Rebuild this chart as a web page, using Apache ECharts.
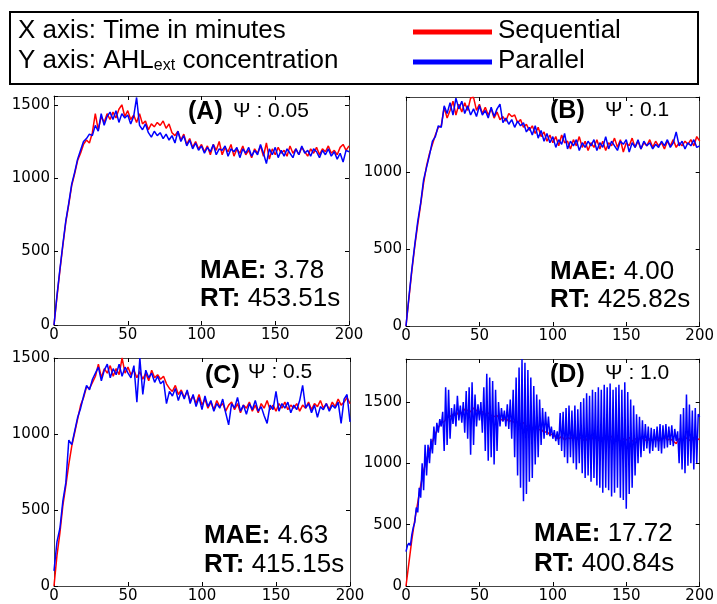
<!DOCTYPE html>
<html><head><meta charset="utf-8">
<script src="https://cdn.jsdelivr.net/npm/echarts@6/dist/echarts.min.js"></script>
<style>html,body{margin:0;padding:0;background:#fff}#c{width:717px;height:604px}</style>
</head><body><div id="c"></div>
<script>
// ---------- data ----------
const xTicks = [0, 50, 100, 150, 200];
const yTicks = [0, 500, 1000, 1500];
const panelLabels = ['(A)', '(B)', '(C)', '(D)'];
const psiValues = ['0.05', '0.1', '0.5', '1.0'];
const maeValues = ['3.78', '4.00', '4.63', '17.72'];
const rtValues = ['453.51s', '425.82s', '415.15s', '400.84s'];
const yMax = [1560, 1487, 1500, 1850];
const stepCoarse = 2;   // minutes between samples
const stepFine = 1;

const seqA = [0,190,370,540,700,820,950,1030,1120,1170,
1230,1260,1240,1310,1440,1330,1420,1380,1440,1400,
1450,1410,1470,1500,1420,1460,1400,1430,1380,1440,
1370,1390,1330,1370,1350,1380,1360,1390,1340,1370,
1310,1290,1320,1260,1300,1230,1270,1210,1250,1200,
1230,1180,1220,1160,1230,1190,1250,1160,1210,1180,
1230,1150,1200,1170,1220,1160,1190,1140,1200,1170,
1220,1150,1240,1130,1200,1160,1210,1170,1190,1150,
1220,1170,1200,1160,1210,1180,1150,1200,1170,1210,
1160,1200,1180,1220,1170,1190,1160,1210,1230,1190,
1220];
const parA = [0,200,380,550,710,830,960,1040,1130,1190,
1250,1270,1300,1290,1360,1320,1440,1360,1420,1450,
1400,1460,1380,1440,1410,1430,1370,1420,1550,1360,
1330,1370,1310,1280,1320,1290,1310,1270,1300,1260,
1290,1240,1320,1250,1290,1220,1260,1200,1240,1190,
1220,1170,1210,1180,1230,1160,1200,1190,1220,1150,
1200,1180,1210,1140,1200,1170,1210,1150,1190,1160,
1230,1170,1100,1200,1160,1210,1140,1190,1150,1200,
1170,1140,1200,1160,1220,1170,1190,1150,1200,1180,
1140,1190,1160,1200,1150,1180,1130,1170,1110,1190,
1180];
const seqB = [0,180,360,520,660,790,930,1040,1120,1180,
1240,1290,1300,1420,1350,1400,1460,1370,1440,1390,
1450,1400,1480,1485,1400,1440,1380,1420,1370,1410,
1350,1390,1340,1360,1330,1380,1360,1370,1320,1340,
1290,1310,1270,1300,1250,1290,1230,1260,1200,1240,
1190,1230,1170,1240,1190,1200,1150,1210,1170,1230,
1160,1200,1140,1190,1160,1210,1150,1200,1140,1190,
1170,1220,1160,1210,1130,1190,1170,1220,1160,1200,
1150,1190,1170,1210,1160,1200,1170,1190,1150,1200,
1170,1210,1160,1190,1170,1200,1180,1210,1170,1230,
1200];
const parB = [0,190,370,530,680,800,950,1030,1110,1200,
1230,1300,1290,1430,1380,1450,1370,1480,1410,1460,
1380,1430,1370,1410,1360,1430,1370,1400,1350,1420,
1360,1410,1440,1320,1350,1310,1340,1290,1330,1300,
1320,1260,1290,1240,1300,1220,1270,1200,1250,1190,
1230,1160,1210,1180,1250,1150,1200,1170,1210,1140,
1190,1160,1200,1170,1210,1140,1190,1160,1230,1150,
1200,1170,1140,1200,1180,1210,1130,1190,1160,1210,
1150,1200,1170,1190,1150,1180,1160,1200,1170,1210,
1160,1190,1260,1170,1200,1150,1190,1170,1210,1160,
1170];
const seqC = [0,200,350,530,660,800,920,1010,1100,1190,
1240,1310,1300,1340,1380,1460,1370,1430,1400,1450,
1380,1430,1390,1500,1400,1440,1390,1420,1370,1410,
1360,1400,1350,1420,1370,1390,1360,1380,1330,1300,
1280,1320,1260,1290,1240,1280,1220,1250,1200,1260,
1190,1230,1170,1210,1160,1220,1180,1200,1150,1190,
1210,1160,1200,1140,1190,1170,1210,1150,1190,1140,
1200,1170,1220,1160,1190,1150,1200,1170,1210,1160,
1190,1170,1200,1150,1190,1170,1210,1160,1200,1180,
1220,1170,1200,1160,1210,1180,1230,1190,1210,1240,
1200];
const parC = [100,290,380,560,680,960,930,1020,1110,1170,
1250,1320,1290,1360,1400,1440,1350,1420,1460,1370,
1430,1390,1460,1380,1440,1400,1370,1450,1210,1500,
1260,1420,1370,1400,1340,1380,1330,1350,1200,1280,
1250,1300,1220,1280,1230,1290,1200,1260,1180,1240,
1160,1250,1180,1220,1150,1200,1170,1230,1140,1060,
1200,1170,1240,1150,1190,1130,1200,1160,1220,1150,
1180,1120,1070,1190,1160,1280,1150,1200,1170,1210,
1140,1190,1160,1220,1320,1170,1200,1140,1190,1110,
1180,1160,1200,1150,1190,1170,1210,1070,1230,1260,
1080];
const seqD = [0,190,380,540,680,820,940,1030,1110,1180,
1240,1290,1330,1340,1370,1380,1400,1390,1420,1410,
1440,1430,1420,1450,1430,1410,1420,1400,1410,1390,
1380,1390,1360,1350,1370,1340,1350,1330,1340,1320,
1330,1300,1310,1290,1300,1270,1280,1250,1260,1230,
1240,1210,1200,1220,1190,1210,1200,1220,1190,1210,
1200,1180,1210,1190,1220,1200,1180,1210,1190,1200,
1220,1190,1210,1180,1200,1190,1210,1180,1200,1190,
1210,1200,1180,1200,1190,1210,1180,1200,1220,1190,
1200,1180,1160,1200,1190,1210,1200,1180,1210,1190,
1200];
const parD = [280,330,350,330,420,480,520,640,600,800,
720,1000,780,1150,900,1150,1000,1200,1080,1300,
1150,1330,1250,1360,1300,1420,1100,1620,1150,1600,
1200,1450,1320,1480,1300,1550,1350,1470,1330,1500,
1250,1590,1200,1620,1070,1660,1150,1560,1300,1480,
1350,1500,1250,1620,1100,1730,1020,1700,1050,1670,
990,1600,1100,1500,1300,1450,1340,1430,1300,1480,
1280,1520,1200,1600,1050,1700,900,1780,800,1850,
690,1820,750,1760,850,1700,880,1630,990,1560,
1050,1520,1150,1450,1200,1420,1230,1380,1220,1300,
1200,1270,1180,1260,1150,1410,1100,1420,1050,1450,
1000,1470,1050,1430,1000,1470,950,1440,1000,1500,
920,1530,880,1570,900,1550,850,1600,880,1580,
820,1620,800,1600,760,1640,800,1620,780,1650,
730,1600,760,1620,800,1640,720,1600,700,1660,
630,1580,750,1520,800,1470,900,1400,1000,1380,
1050,1350,1100,1320,1120,1300,1080,1290,1100,1280,
1130,1300,1100,1320,1080,1310,1120,1320,1130,1300,
1150,1310,1140,1280,1180,1260,1000,1400,950,1450,
920,1560,980,1480,1000,1430,950,1450,1000,1400,
1380];

const seqSeries = [seqA, seqB, seqC, seqD];
const parSeries = [parA, parB, parC, parD];
const seqSteps = [stepCoarse, stepCoarse, stepCoarse, stepCoarse];
const parSteps = [stepCoarse, stepCoarse, stepCoarse, stepFine];

// ---------- layout ----------
const grids = [
  {left: 54, top: 96, width: 295, height: 229},
  {left: 406, top: 97, width: 295, height: 229},
  {left: 54, top: 358, width: 296, height: 230},
  {left: 406, top: 359, width: 296, height: 229}
];
const labPos = [[188,112],[550,111],[205,376],[550,375]];
const psiPos = [[233,111],[605,110],[248,372],[605,373]];
const maePos = [[200,271],[550,272],[204,536],[534,534]];
const rtPos  = [[200,299],[550,300],[204,565],[534,564]];

const FRAME = '#444';
const tickFont = {fontFamily: 'DejaVu Sans', fontSize: 15, color: '#000'};
const toPairs = (arr, step) => arr.map((v, i) => [i * step, v]);

const xAxes = [], yAxes = [], series = [], graphics = [];
grids.forEach((g, i) => {
  const common = {gridIndex: i, min: 0, max: 200, interval: 50, splitLine: {show: false},
    axisLine: {show: true, onZero: false, lineStyle: {color: FRAME, width: 1}},
    axisTick: {show: true, inside: true, length: 4, lineStyle: {color: '#000'}}};
  xAxes.push(Object.assign({type: 'value', position: 'bottom',
    axisLabel: Object.assign({margin: 3, formatter: v => xTicks.includes(v) ? String(v) : ''}, tickFont)}, common));
  xAxes.push(Object.assign({type: 'value', position: 'top', axisLabel: {show: false}}, common));
  const ycommon = {gridIndex: i, min: 0, max: yMax[i], interval: 500, splitLine: {show: false},
    axisLine: {show: true, onZero: false, lineStyle: {color: FRAME, width: 1}},
    axisTick: {show: true, inside: true, length: 4, lineStyle: {color: '#000'}}};
  yAxes.push(Object.assign({type: 'value', position: 'left',
    axisLabel: Object.assign({margin: 4, showMaxLabel: true, formatter: v => yTicks.includes(v) ? String(v) : ''}, tickFont)}, ycommon));
  yAxes.push(Object.assign({type: 'value', position: 'right', axisLabel: {show: false}}, ycommon));

  series.push({type: 'line', name: 'Sequential', xAxisIndex: 2*i, yAxisIndex: 2*i,
    data: toPairs(seqSeries[i], seqSteps[i]), showSymbol: false, symbol: 'none',
    lineStyle: {color: '#ff0000', width: 1.5}, z: 2, silent: true});
  series.push({type: 'line', name: 'Parallel', xAxisIndex: 2*i, yAxisIndex: 2*i,
    data: toPairs(parSeries[i], parSteps[i]), showSymbol: false, symbol: 'none',
    lineStyle: {color: '#0000ff', width: 1.5}, z: 3, silent: true});

  graphics.push({type: 'text', z: 100, style: {text: panelLabels[i], x: labPos[i][0], y: labPos[i][1],
    font: 'bold 25px "Liberation Sans"', fill: '#000', verticalAlign: 'middle'}});
  graphics.push({type: 'text', z: 100, style: {text: '\u03A8 : ' + psiValues[i], x: psiPos[i][0], y: psiPos[i][1],
    font: '21px "Liberation Sans"', fill: '#000', verticalAlign: 'middle'}});
  graphics.push({type: 'text', z: 100, style: {text: '{b|MAE:}{r| ' + maeValues[i] + '}', x: maePos[i][0], y: maePos[i][1],
    verticalAlign: 'middle', rich: {b: {font: 'bold 26px "Liberation Sans"', fill: '#000'}, r: {font: '26px "Liberation Sans"', fill: '#000'}}}});
  graphics.push({type: 'text', z: 100, style: {text: '{b|RT:}{r| ' + rtValues[i] + '}', x: rtPos[i][0], y: rtPos[i][1],
    verticalAlign: 'middle', rich: {b: {font: 'bold 26px "Liberation Sans"', fill: '#000'}, r: {font: '26px "Liberation Sans"', fill: '#000'}}}});
});

// legend box
graphics.push({type: 'rect', z: 100, shape: {x: 10, y: 12, width: 688, height: 72},
  style: {fill: 'none', stroke: '#000', lineWidth: 2}});
graphics.push({type: 'text', z: 100, style: {text: 'X axis: Time in minutes', x: 18, y: 31,
  font: '26px "Liberation Sans"', fill: '#000', verticalAlign: 'middle'}});
graphics.push({type: 'text', z: 100, style: {text: '{m|Y axis: AHL}{s|ext}{m| concentration}', x: 18, y: 61,
  verticalAlign: 'middle', rich: {m: {font: '26px "Liberation Sans"', fill: '#000'},
  s: {font: '16px "Liberation Sans"', fill: '#000', verticalAlign: 'bottom'}}}});
graphics.push({type: 'line', z: 100, shape: {x1: 413, y1: 32, x2: 492, y2: 32}, style: {stroke: '#ff0000', lineWidth: 5}});
graphics.push({type: 'line', z: 100, shape: {x1: 413, y1: 62, x2: 492, y2: 62}, style: {stroke: '#0000ff', lineWidth: 5}});
graphics.push({type: 'text', z: 100, style: {text: 'Sequential', x: 498, y: 31,
  font: '26px "Liberation Sans"', fill: '#000', verticalAlign: 'middle'}});
graphics.push({type: 'text', z: 100, style: {text: 'Parallel', x: 498, y: 61,
  font: '26px "Liberation Sans"', fill: '#000', verticalAlign: 'middle'}});

const chart = echarts.init(document.getElementById('c'), null, {renderer: 'canvas'});
chart.setOption({
  animation: false,
  backgroundColor: '#fff',
  grid: grids.map(g => Object.assign({containLabel: false, show: false}, g)),
  xAxis: xAxes,
  yAxis: yAxes,
  series: series,
  graphic: graphics
});
</script></body></html>
